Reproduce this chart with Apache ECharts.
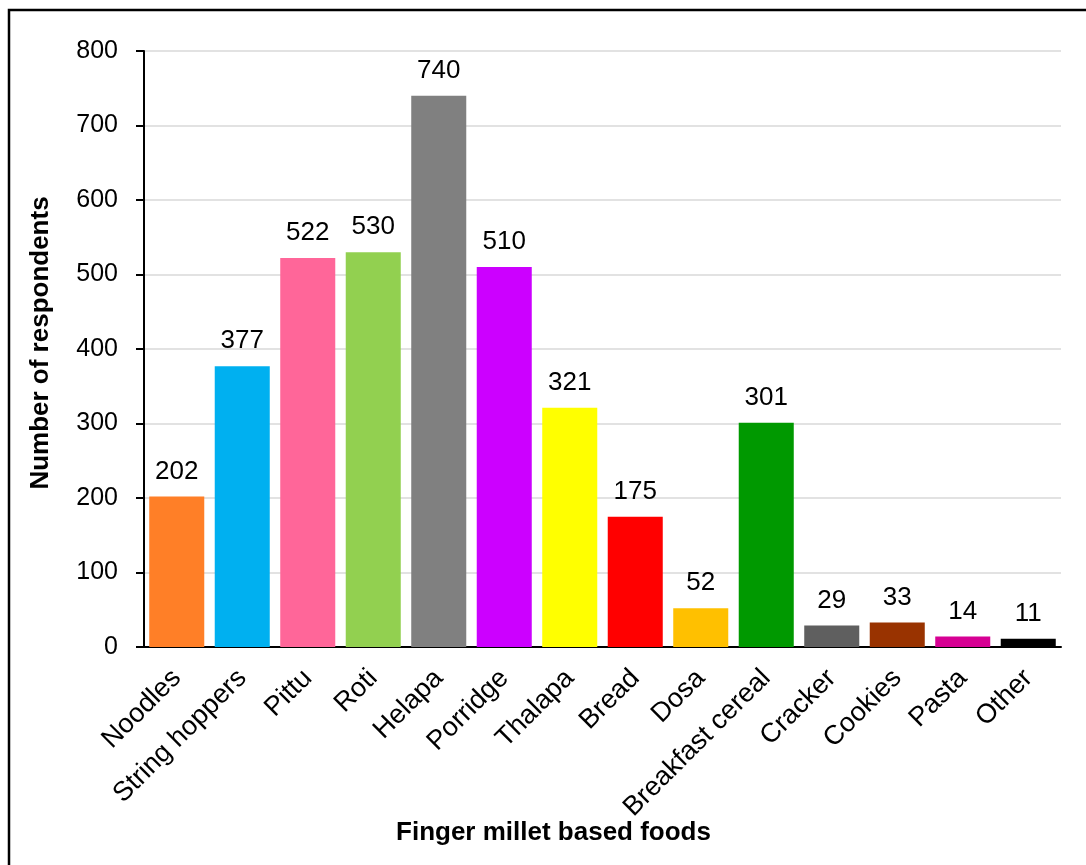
<!DOCTYPE html>
<html>
<head>
<meta charset="utf-8">
<script src="https://cdn.jsdelivr.net/npm/echarts@6/dist/echarts.min.js"></script>
<style>
html,body{margin:0;padding:0;background:#fff;}
#chart{width:1086px;height:865px;}
</style>
</head>
<body>
<div id="chart"></div>
<script>
const categories = ["Noodles","String hoppers","Pittu","Roti","Helapa","Porridge","Thalapa","Bread","Dosa","Breakfast cereal","Cracker","Cookies","Pasta","Other"];
const respondents = [202,377,522,530,740,510,321,175,52,301,29,33,14,11];
const barColors = ["#FF7F27","#00B0F0","#FF6699","#92D050","#808080","#CC00FF","#FFFF00","#FF0000","#FFC000","#009900","#5F5F5F","#993300","#D60093","#000000"];
const yTicks = [0,100,200,300,400,500,600,700,800];
const xTitle = "Finger millet based foods";
const yTitle = "Number of respondents";

const chart = echarts.init(document.getElementById('chart'), null, {renderer:'canvas'});
const font = "Arial, 'Liberation Sans', sans-serif";
chart.setOption({
  animation:false,
  backgroundColor:'#fff',
  graphic:[{type:'rect',shape:{x:9,y:10,width:1200,height:1000},style:{fill:'none',stroke:'#000',lineWidth:2.5},silent:true}],
  grid:{left:144,right:25,top:51,bottom:218,containLabel:false},
  xAxis:{
    type:'category',data:categories,
    axisLine:{lineStyle:{color:'#000',width:2}},
    axisTick:{show:false},
    axisLabel:{rotate:45,interval:0,margin:27,color:'#000',fontSize:27,fontFamily:font},
    name:xTitle,nameLocation:'middle',nameGap:173,nameMoveOverlap:false,
    nameTextStyle:{fontSize:26,fontWeight:'bold',color:'#000',fontFamily:font,padding:[0,98,0,0]}
  },
  yAxis:{
    type:'value',min:yTicks[0],max:yTicks[yTicks.length-1],interval:100,
    axisLine:{show:true,lineStyle:{color:'#000',width:2}},
    axisTick:{show:true,length:8,lineStyle:{color:'#000',width:2}},
    axisLabel:{margin:26,color:'#000',fontSize:25,fontFamily:font},
    splitLine:{lineStyle:{color:'#D9D9D9',width:1.5}},
    name:yTitle,nameLocation:'middle',nameGap:90,nameMoveOverlap:false,
    nameTextStyle:{fontSize:26,fontWeight:'bold',color:'#000',fontFamily:font,padding:[0,0,0,12]}
  },
  series:[{
    type:'bar',
    data:respondents.map((v,i)=>({value:v,itemStyle:{color:barColors[i]}})),
    barCategoryGap:'16%',
    label:{show:true,position:'top',distance:12,color:'#000',fontSize:26,fontFamily:font}
  }]
});
</script>
</body>
</html>
